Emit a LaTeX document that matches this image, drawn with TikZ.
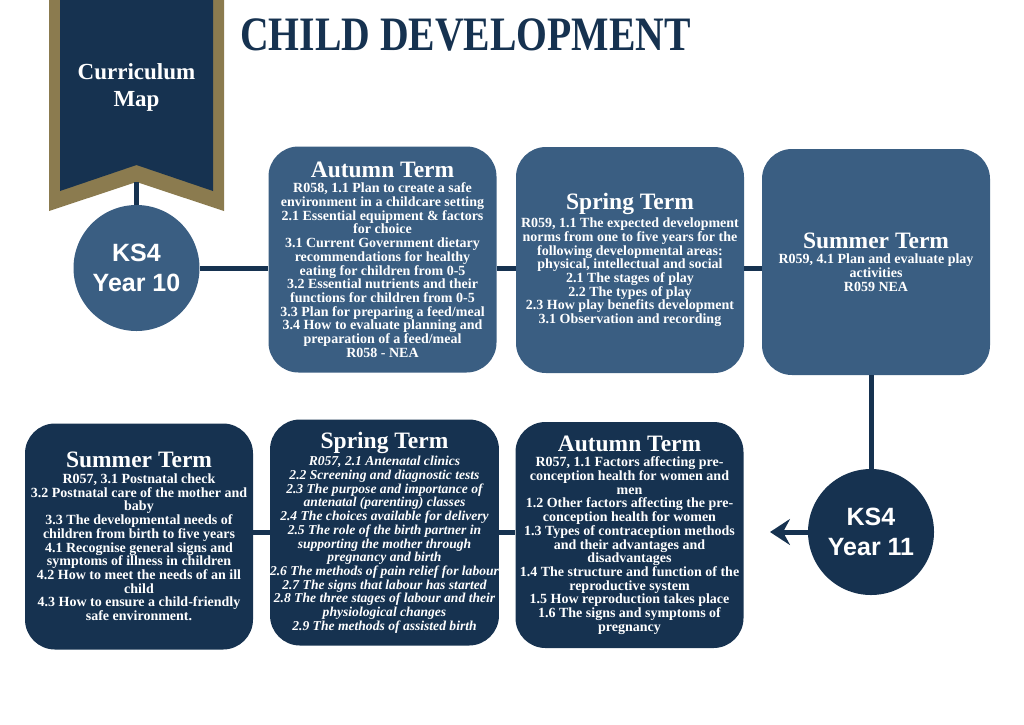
\documentclass[tikz,border=0pt]{standalone}
\usepackage{graphicx}
\usepackage{fontspec}
\setmainfont{Liberation Serif}
\newfontfamily\kssans{Liberation Sans}
\usetikzlibrary{arrows.meta}

\definecolor{termblue}{RGB}{58,94,130}
\definecolor{termnavy}{RGB}{22,50,80}
\definecolor{bannergold}{RGB}{139,123,79}

\newcommand{\termhead}[1]{{\upshape\fontsize{23.5}{24}\selectfont #1}\\[2pt]}

\begin{document}
\begin{tikzpicture}[x=1pt, y=-1pt,
    termbox/.style={rounded corners=30pt, inner sep=0pt, minimum width=228pt,
        minimum height=226pt, text=white, align=center,
        font=\bfseries\fontsize{14}{13.7}\selectfont},
    yearcircle/.style={circle, inner sep=0pt, minimum size=126pt, text=white,
        align=center, font=\kssans\bfseries\fontsize{25}{30}\selectfont},
    link/.style={draw=termnavy, line width=5pt}]

    \useasboundingbox (0,0) rectangle (1024,724);

    % banner
    \fill[bannergold] (49,0) -- (224,0) -- (224,211) -- (136.5,182) -- (49,211) -- cycle;
    \fill[termnavy] (60,0) -- (213,0) -- (213,191) -- (136.5,165) -- (60,191) -- cycle;
    \coordinate (bannertip) at (136.5,182);
    \node[text=white, font=\bfseries\fontsize{23}{27}\selectfont, align=center]
        (maplabel) at (136.5,87) {Curriculum\\Map};

    \node[anchor=base west, inner sep=0pt, text=termnavy,
        font=\bfseries\fontsize{48}{48}\selectfont]
        (title) at (240,50) {\scalebox{0.826}[1]{CHILD DEVELOPMENT}};

    \node[yearcircle, fill=termblue] (ks4a) at (136.5,268) {KS4\\Year 10};
    \node[yearcircle, fill=termnavy] (ks4b) at (871,532) {KS4\\Year 11};

    % year 10
    \node[termbox, fill=termblue] (autumnA) at (382.5,259.5) {\termhead{Autumn Term}
        R058, 1.1 Plan to create a safe\\
        environment in a childcare setting\\
        2.1 Essential equipment \& factors\\
        for choice\\
        3.1 Current Government dietary\\
        recommendations for healthy\\
        eating for children from 0-5\\
        3.2 Essential nutrients and their\\
        functions for children from 0-5\\
        3.3 Plan for preparing a feed/meal\\
        3.4 How to evaluate planning and\\
        preparation of a feed/meal\\
        R058 - NEA};
    \node[termbox, fill=termblue] (springA) at (630,260) {\termhead{Spring Term}
        R059, 1.1 The expected development\\
        norms from one to five years for the\\
        following developmental areas:\\
        physical, intellectual and social\\
        2.1 The stages of play\\
        2.2 The types of play\\
        2.3 How play benefits development\\
        3.1 Observation and recording};
    \node[termbox, fill=termblue] (summerA) at (876,262) {\termhead{Summer Term}
        R059, 4.1 Plan and evaluate play\\
        activities\\
        R059 NEA};

    % year 11
    \node[termbox, fill=termnavy] (summerB) at (139,536.5) {\termhead{Summer Term}
        R057, 3.1 Postnatal check\\
        3.2 Postnatal care of the mother and\\
        baby\\
        3.3 The developmental needs of\\
        children from birth to five years\\
        4.1 Recognise general signs and\\
        symptoms of illness in children\\
        4.2 How to meet the needs of an ill\\
        child\\
        4.3 How to ensure a child-friendly\\
        safe environment.};
    \node[termbox, fill=termnavy, font=\bfseries\itshape\fontsize{13.6}{13.7}\selectfont]
        (springB) at (384.5,532.5) {\termhead{Spring Term}
        R057, 2.1 Antenatal clinics\\
        2.2 Screening and diagnostic tests\\
        2.3 The purpose and importance of\\
        antenatal (parenting) classes\\
        2.4 The choices available for delivery\\
        2.5 The role of the birth partner in\\
        supporting the mother through\\
        pregnancy and birth\\
        2.6 The methods of pain relief for labour\\
        2.7 The signs that labour has started\\
        2.8 The three stages of labour and their\\
        physiological changes\\
        2.9 The methods of assisted birth};
    \node[termbox, fill=termnavy] (autumnB) at (629.5,535) {\termhead{Autumn Term}
        R057, 1.1 Factors affecting pre-\\
        conception health for women and\\
        men\\
        1.2 Other factors affecting the pre-\\
        conception health for women\\
        1.3 Types of contraception methods\\
        and their advantages and\\
        disadvantages\\
        1.4 The structure and function of the\\
        reproductive system\\
        1.5 How reproduction takes place\\
        1.6 The signs and symptoms of\\
        pregnancy};

    \coordinate (arrowtip) at (770,532);

    \draw[link] (bannertip) -- (ks4a.north);
    \draw[link] (ks4a.east) -- (autumnA.west |- ks4a.east);
    \foreach \a/\b in {autumnA/springA, springA/summerA}
        \draw[link] (\a.east |- ks4a.east) -- (\b.west |- ks4a.east);
    \draw[link] (ks4b.north |- summerA.south) -- (ks4b.north);
    \draw[link, -{Stealth[length=20pt, width=26pt, inset=7pt]}] (ks4b.west) -- (arrowtip);
    \foreach \a/\b in {summerB/springB, springB/autumnB}
        \draw[link] (\a.east |- springB.center) -- (\b.west |- springB.center);
\end{tikzpicture}
\end{document}
